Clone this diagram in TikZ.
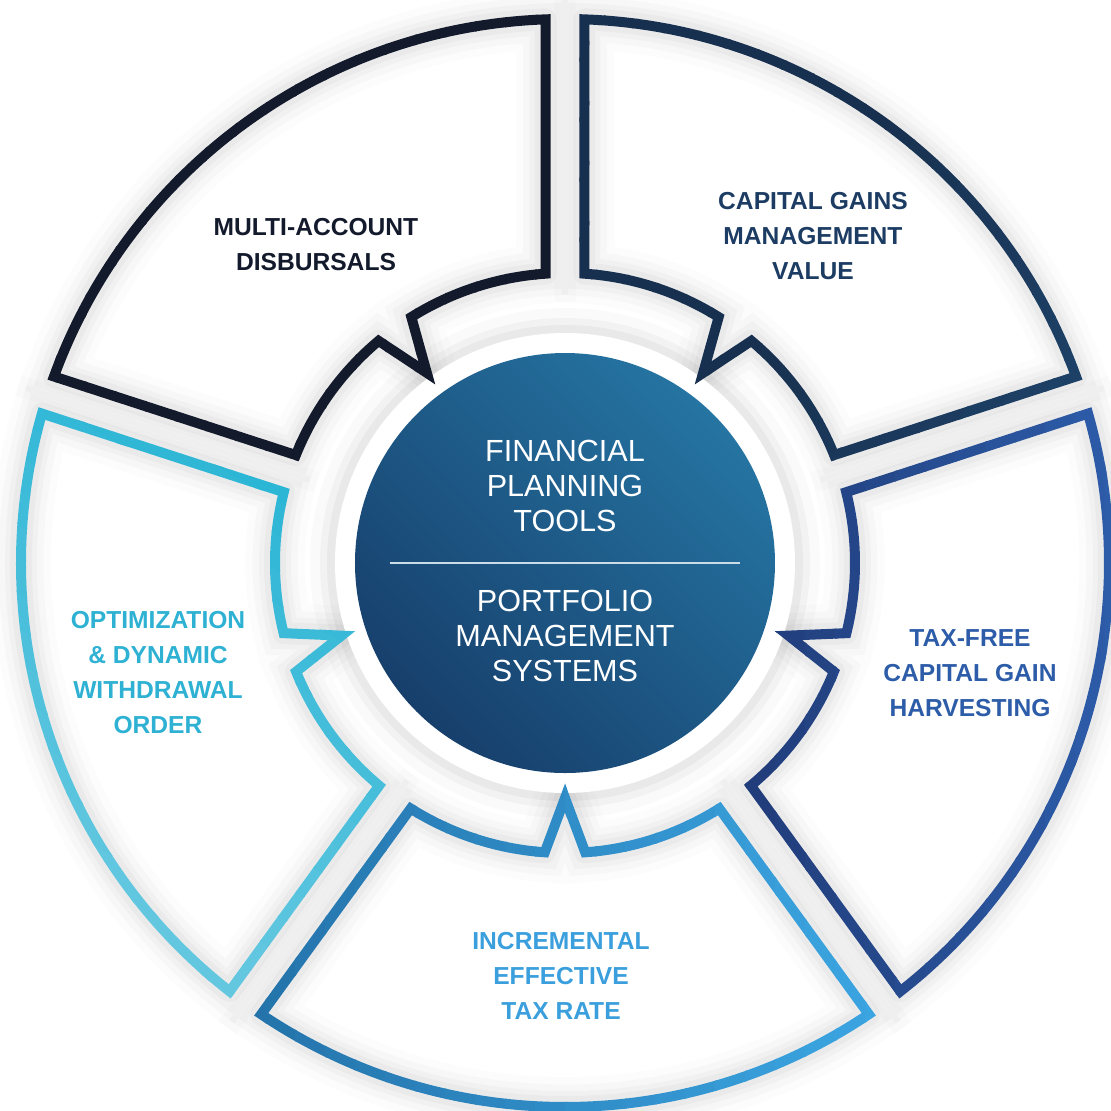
\documentclass[tikz,border=0pt]{standalone}
\usepackage{fontspec}
\setmainfont{Liberation Sans}
\usepackage{xcolor}
\usetikzlibrary{positioning}
\definecolor{NavyInk}{HTML}{131A2C}
\definecolor{GainsDeep}{HTML}{18304F}
\definecolor{GainsBlue}{HTML}{1C3C63}
\definecolor{GainsLight}{HTML}{1F466F}
\definecolor{HarvestDeep}{HTML}{213D7B}
\definecolor{HarvestBlue}{HTML}{2D5CA8}
\definecolor{RateDeep}{HTML}{2472AA}
\definecolor{RateText}{HTML}{3A9FDC}
\definecolor{RateLight}{HTML}{3CA7E3}
\definecolor{OrderPale}{HTML}{66C8E0}
\definecolor{OrderCyan}{HTML}{2EB1D2}
\definecolor{OrderDeep}{HTML}{2AB5D5}
\definecolor{CoreDark}{HTML}{173F6C}
\definecolor{CoreLight}{HTML}{2574A2}

% ring geometry
\def\rOut{5.44}
\def\rIn{2.90}
\def\rTip{2.35}
\def\gap{0.195}
\def\nb{4}
\pgfmathsetmacro\dOut{asin(\gap/\rOut)}
\pgfmathsetmacro\dIn{asin(\gap/\rIn)}

% outline of one segment, needs \cen, \lo and \hi
\newcommand{\segpath}{%
  (\cen:\rTip) -- ({\cen-\nb}:\rIn)
  arc[start angle={\cen-\nb}, end angle={\lo+\dIn}, radius=\rIn]
  -- ({\lo+\dOut}:\rOut)
  arc[start angle={\lo+\dOut}, end angle={\hi-\dOut}, radius=\rOut]
  -- ({\hi-\dIn}:\rIn)
  arc[start angle={\hi-\dIn}, end angle={\cen+\nb}, radius=\rIn]
  -- cycle}

\begin{document}
\begin{tikzpicture}[
    segment/.style={line width=1mm, line join=miter},
    glow/.style={draw=black, line join=round,
      preaction={draw=black, draw opacity=0.012, line width=6mm},
      preaction={draw=black, draw opacity=0.018, line width=4.5mm},
      preaction={draw=black, draw opacity=0.022, line width=3.2mm},
      draw opacity=0.028, line width=2.2mm},
    sectortext/.style={font=\bfseries\fontsize{7}{9.96}\selectfont, align=center},
    coretext/.style={font=\fontsize{8.7}{9.96}\selectfont, align=center, text=white},
    divider/.style={draw=white!75!CoreLight, line width=0.5pt}
  ]
  \useasboundingbox (-5.65,-5.47) rectangle (5.46,5.63);

  % soft shade under the segments
  \foreach \cen in {54,126,198,270,342} {
    \pgfmathsetmacro\lo{\cen-36}
    \pgfmathsetmacro\hi{\cen+36}
    \draw[glow] \segpath;
  }

  % white ring and the core
  \fill[white, preaction={draw=black, draw opacity=0.02, line width=5mm},
    preaction={draw=black, draw opacity=0.03, line width=3mm},
    preaction={draw=black, draw opacity=0.04, line width=1.6mm}] (0,0) circle (2.30);
  \shade[shading=axis, left color=CoreDark, right color=CoreLight, shading angle=135]
    (0,0) circle (2.10);

  % segment outlines, coloured strip by strip along \dir
  \foreach \cen/\dir/\ua/\ub/\ca/\cb in {
      54/-30/0.5/4.5/GainsDeep/GainsLight,
      126/0/-4/-1/NavyInk/NavyInk,
      198/60/-5.4/-0.6/OrderPale/OrderDeep,
      270/0/-3.3/3.3/RateDeep/RateLight,
      342/0/1.9/5.4/HarvestDeep/HarvestBlue} {
    \pgfmathsetmacro\lo{\cen-36}
    \pgfmathsetmacro\hi{\cen+36}
    \foreach \k in {0,...,39} {
      \pgfmathsetmacro\us{-6+0.3*\k}
      \pgfmathtruncatemacro\mix{max(0,min(100,100*(\us+0.15-\ua)/(\ub-\ua)))}
      \begin{scope}
        \clip[rotate=\dir] (\us,-7) rectangle ({\us+0.32},7);
        \draw[segment, draw=\cb!\mix!\ca] \segpath;
      \end{scope}
    }
  }

  \coordinate (rule west) at (-1.75,0);
  \coordinate (rule east) at (1.75,0);
  \draw[divider] (rule west) -- (rule east);

  \node (tools) [coretext] at (0,0.77) {FINANCIAL\\PLANNING\\TOOLS};
  \node (systems) [coretext] at (0,-0.73) {PORTFOLIO\\MANAGEMENT\\SYSTEMS};

  \node (disbursals) [sectortext, text=NavyInk] at (-2.49,3.18) {MULTI-ACCOUNT\\DISBURSALS};
  \node (gains) [sectortext, text=GainsBlue] at (2.48,3.27) {CAPITAL GAINS\\MANAGEMENT\\VALUE};
  \node (harvest) [sectortext, text=HarvestBlue] at (4.05,-1.10) {TAX-FREE\\CAPITAL GAIN\\HARVESTING};
  \node (rate) [sectortext, text=RateText] at (-0.04,-4.13) {INCREMENTAL\\EFFECTIVE\\TAX RATE};
  \node (order) [sectortext, text=OrderCyan] at (-4.07,-1.10) {OPTIMIZATION\\\& DYNAMIC\\WITHDRAWAL\\ORDER};
\end{tikzpicture}
\end{document}
